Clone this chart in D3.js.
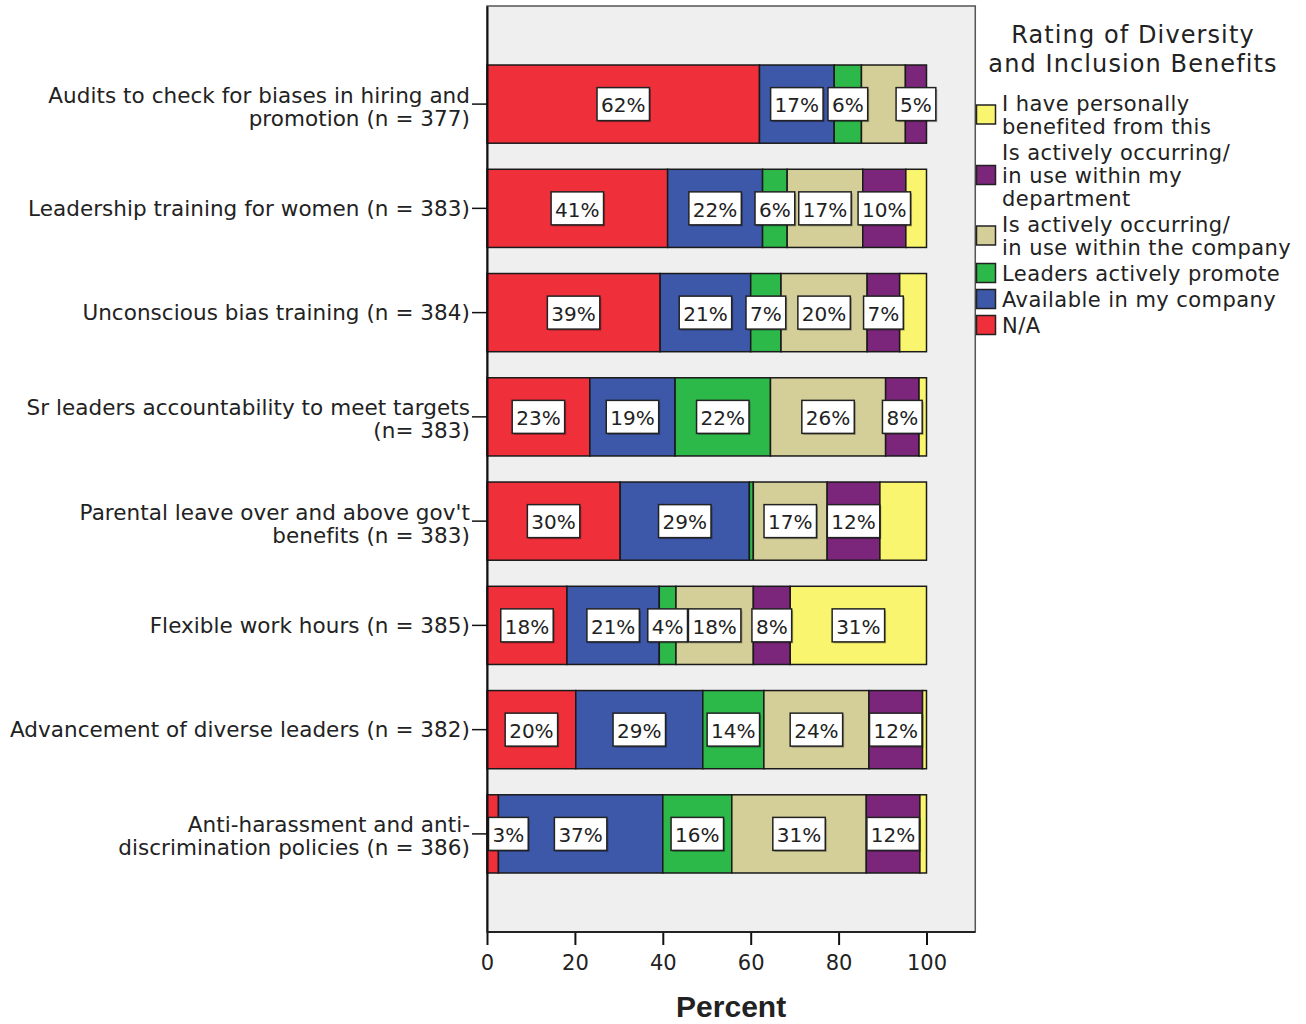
<!DOCTYPE html>
<html>
<head>
<meta charset="utf-8">
<script src="https://cdn.jsdelivr.net/npm/d3@7"></script>
<style>
  html, body { margin: 0; padding: 0; background: #ffffff; }
  svg text { font-family: "DejaVu Sans", sans-serif; fill: #222; }
</style>
</head>
<body>
<svg id="chart" width="1306" height="1024"></svg>
<script>
// Diversity & inclusion benefits: one stacked 100% bar per practice.
const categoryLines = [
  ["Audits to check for biases in hiring and", "promotion (n = 377)"],
  ["Leadership training for women (n = 383)"],
  ["Unconscious bias training (n = 384)"],
  ["Sr leaders accountability to meet targets", "(n= 383)"],
  ["Parental leave over and above gov't", "benefits (n = 383)"],
  ["Flexible work hours (n = 385)"],
  ["Advancement of diverse leaders (n = 382)"],
  ["Anti-harassment and anti-", "discrimination policies (n = 386)"]
];

// Stack order, left to right
const seriesKeys = ["na", "available", "leaders", "company", "department", "benefited"];
const seriesColors = ["#ef2f3a", "#3d57a9", "#2db84a", "#d4cf98", "#7b267b", "#faf56e"];

// Percent of respondents per rating, one entry per practice
const naVals         = [62.0, 41.1, 39.4, 23.4, 30.3, 18.2, 20.2,  2.6];
const availableVals  = [17.0, 21.6, 20.6, 19.4, 29.4, 21.0, 28.9, 37.4];
const leadersVals    = [ 6.2,  5.6,  6.9, 21.7,  0.9,  3.8, 13.9, 15.7];
const companyVals    = [10.0, 17.2, 19.6, 26.2, 16.8, 17.6, 23.9, 30.6];
const departmentVals = [ 4.8,  9.8,  7.4,  7.6, 12.0,  8.4, 12.2, 12.2];
const benefitedVals  = [ 0.0,  4.7,  6.1,  1.7, 10.6, 31.0,  0.9,  1.5];

// Segments whose value label is not printed: [practice index, series index]
const unlabeled = [[0, 3], [0, 5], [1, 5], [2, 5], [3, 5], [4, 2], [4, 5], [6, 5], [7, 5]];

// Legend, top to bottom (reverse of stack order)
const legendTitle = ["Rating of Diversity", "and Inclusion Benefits"];
const legendLines = [
  ["I have personally", "benefited from this"],
  ["Is actively occurring/", "in use within my", "department"],
  ["Is actively occurring/", "in use within the company"],
  ["Leaders actively promote"],
  ["Available in my company"],
  ["N/A"]
];
const legendSeries = [5, 4, 3, 2, 1, 0];

const xTicks = [0, 20, 40, 60, 80, 100];
const xTitle = "Percent";

// ---- build table ----
const valueArrays = [naVals, availableVals, leadersVals, companyVals, departmentVals, benefitedVals];
const rows = categoryLines.map((lines, i) => {
  const r = { idx: i, lines };
  seriesKeys.forEach((k, s) => r[k] = valueArrays[s][i]);
  return r;
});
const hiddenSet = new Set(unlabeled.map(d => d[0] + "|" + d[1]));

const svg = d3.select("#chart");

const plotTop = 6, plotBottom = 932;
const x = d3.scaleLinear().domain([0, 100]).range([487, 926.5]);
const plotLeft = x(0), plotRight = x(111.1);

const y = d3.scaleBand()
  .domain(rows.map(r => r.idx))
  .range([plotTop, plotBottom])
  .paddingInner(0.25)
  .paddingOuter(0.566);

// plot background
svg.append("rect")
  .attr("x", plotLeft).attr("y", plotTop)
  .attr("width", plotRight - plotLeft).attr("height", plotBottom - plotTop)
  .attr("fill", "#efefef").attr("stroke", "#555").attr("stroke-width", 1.5);

const stack = d3.stack().keys(seriesKeys);
const layers = stack(rows);

const layerG = svg.append("g").selectAll("g")
  .data(layers).join("g")
  .attr("fill", (d, i) => seriesColors[i]);

layerG.selectAll("rect")
  .data(d => d.map(p => ({ p, row: p.data.idx })))
  .join("rect")
  .attr("x", d => x(d.p[0]))
  .attr("y", d => y(d.row))
  .attr("width", d => Math.max(0, x(d.p[1]) - x(d.p[0])))
  .attr("height", y.bandwidth())
  .attr("stroke", "#1a1a1a")
  .attr("stroke-width", d => (d.p[1] - d.p[0]) > 0 ? 1.5 : 0);

// value labels
const labelG = svg.append("g");
layers.forEach((layer, s) => {
  layer.forEach(p => {
    const i = p.data.idx;
    if (hiddenSet.has(i + "|" + s)) return;
    const v = p[1] - p[0];
    const txt = Math.round(v) + "%";
    const cx = (x(p[0]) + x(p[1])) / 2;
    const cy = y(i) + y.bandwidth() / 2;
    const g = labelG.append("g");
    const t = g.append("text")
      .attr("font-size", 20)
      .attr("text-anchor", "middle")
      .attr("dy", "0.36em")
      .text(txt);
    const w = t.node().getComputedTextLength() + 8;
    const h = 33;
    let left = cx - w / 2;
    if (left < plotLeft + 1.5) left = plotLeft + 1.5;
    t.attr("x", left + w / 2).attr("y", cy + 1);
    g.insert("rect", "text")
      .attr("x", left + 1.5).attr("y", cy - h / 2 + 1.5)
      .attr("width", w).attr("height", h)
      .attr("fill", "#000").attr("opacity", 0.3);
    g.insert("rect", "text")
      .attr("x", left).attr("y", cy - h / 2)
      .attr("width", w).attr("height", h)
      .attr("fill", "#fff").attr("stroke", "#222").attr("stroke-width", 1.5);
  });
});

// left axis with category labels
const yAxis = svg.append("g")
  .attr("transform", `translate(${plotLeft},0)`)
  .call(d3.axisLeft(y).tickSize(15).tickSizeOuter(0).tickFormat(""));
yAxis.select(".domain").attr("stroke", "#111").attr("stroke-width", 2);
yAxis.selectAll(".tick line").attr("stroke", "#111").attr("stroke-width", 1.5);

const catG = svg.append("g");
rows.forEach(r => {
  const cy = y(r.idx) + y.bandwidth() / 2;
  const t = catG.append("text")
    .attr("text-anchor", "end")
    .attr("font-size", 21.5)
    .attr("letter-spacing", 0.05)
    .attr("x", 470);
  if (r.lines.length === 1) {
    t.append("tspan").attr("x", 470).attr("y", cy + 7.5).text(r.lines[0]);
  } else {
    t.append("tspan").attr("x", 470).attr("y", cy - 1.5).text(r.lines[0]);
    t.append("tspan").attr("x", 470).attr("y", cy + 21.5).text(r.lines[1]);
  }
});

// bottom axis
const xAxis = svg.append("g")
  .attr("transform", `translate(0,${plotBottom})`)
  .call(d3.axisBottom(x).tickValues(xTicks).tickSize(13).tickPadding(10));
xAxis.select(".domain").remove();
xAxis.selectAll(".tick line").attr("stroke", "#111").attr("stroke-width", 2);
xAxis.selectAll(".tick text")
  .attr("font-size", 21)
  .style("font-family", "DejaVu Sans, sans-serif")
  .attr("fill", "#222");
svg.append("line")
  .attr("x1", plotLeft).attr("x2", plotRight)
  .attr("y1", plotBottom).attr("y2", plotBottom)
  .attr("stroke", "#222").attr("stroke-width", 2);

svg.append("text")
  .attr("x", (plotLeft + plotRight) / 2)
  .attr("y", 1017)
  .attr("text-anchor", "middle")
  .attr("font-size", 30)
  .attr("font-weight", "bold")
  .style("font-family", "'Liberation Sans', Arial, sans-serif")
  .text(xTitle);

// legend
const legG = svg.append("g");
legendTitle.forEach((line, i) => {
  legG.append("text")
    .attr("x", 1133).attr("y", 43 + i * 28.5)
    .attr("text-anchor", "middle")
    .attr("font-size", 24)
    .attr("letter-spacing", 1.1)
    .attr("fill", "#333")
    .text(line);
});

const lineH = 23, itemGap = 3;
let cursor = 103;
legendLines.forEach((lines, k) => {
  const centers = lines.map((_, j) => cursor + j * lineH);
  lines.forEach((line, j) => {
    legG.append("text")
      .attr("x", 1002).attr("y", centers[j] + 7.5)
      .attr("font-size", 21)
      .attr("letter-spacing", 0.45)
      .text(line);
  });
  const mid = (centers[0] + centers[centers.length - 1]) / 2;
  legG.append("rect")
    .attr("x", 976.5).attr("y", mid - 9.5)
    .attr("width", 19).attr("height", 19)
    .attr("fill", seriesColors[legendSeries[k]])
    .attr("stroke", "#222").attr("stroke-width", 1.5);
  cursor = centers[centers.length - 1] + lineH + itemGap;
});
</script>
</body>
</html>
